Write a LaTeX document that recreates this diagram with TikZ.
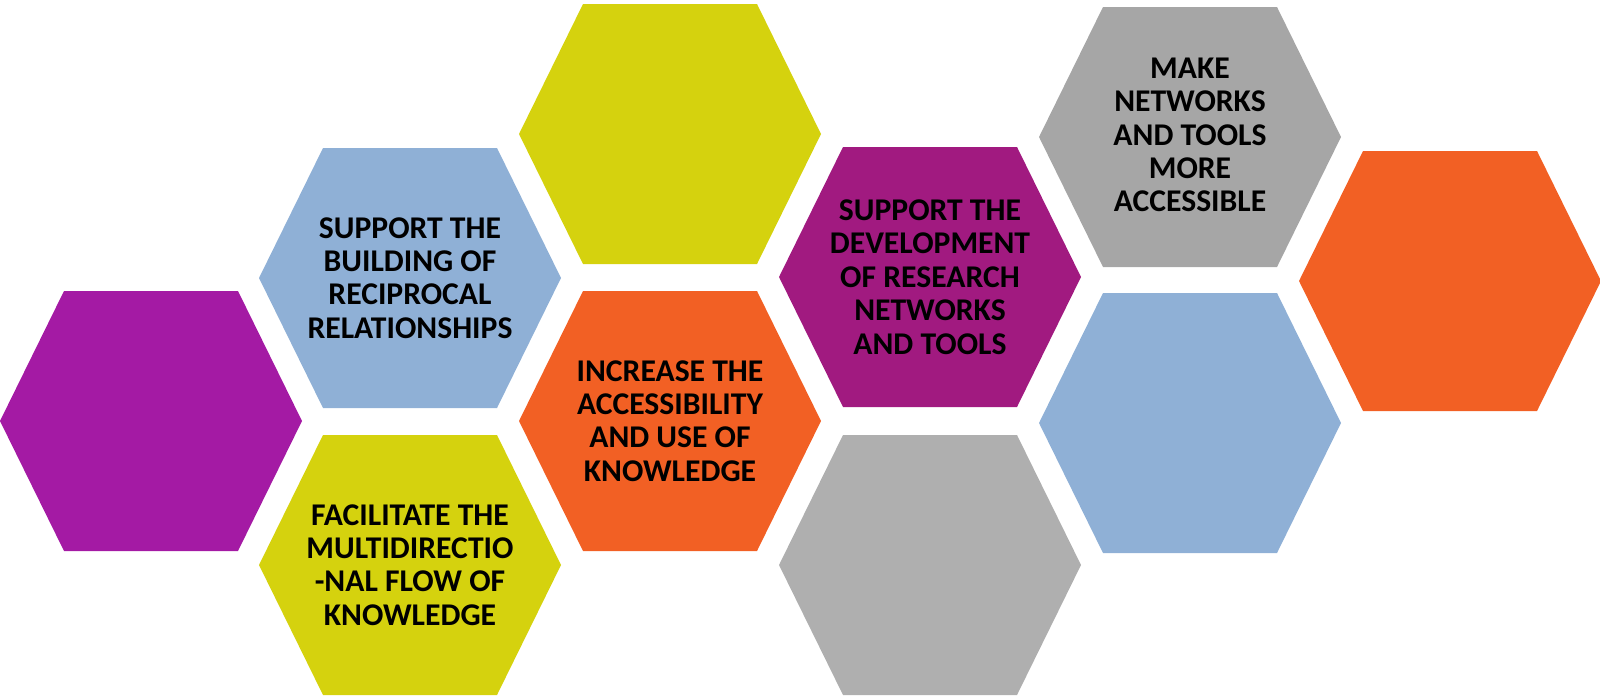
\documentclass[tikz,border=0pt]{standalone}
\usepackage{fontspec}
\setmainfont{Carlito}

\definecolor{hexpurple}{HTML}{A41AA4}
\definecolor{hexplum}{HTML}{A11A80}
\definecolor{hexblue}{HTML}{8FB0D6}
\definecolor{hexyellow}{HTML}{D5D20E}
\definecolor{hexorange}{HTML}{F26024}
\definecolor{hexgrey}{HTML}{A6A6A6}
\definecolor{hexgreylight}{HTML}{AFAFAF}

\tikzset{
	goal/.style={align=center, text=black, font=\fontsize{9}{9.5}\selectfont\bfseries, inner sep=0pt}
}

\begin{document}
\begin{tikzpicture}[x=0.01cm, y=-0.01cm]
		\useasboundingbox (0,0) rectangle (1600,697);
		% hexagons, column by column
		\fill[hexpurple] (151,421) +(-151,0) -- +(-87,-130) -- +(87,-130) -- +(151,0) -- +(87,130) -- +(-87,130) -- cycle;
		\fill[hexblue] (410,278) +(-151,0) -- +(-87,-130) -- +(87,-130) -- +(151,0) -- +(87,130) -- +(-87,130) -- cycle;
		\fill[hexyellow] (410,565) +(-151,0) -- +(-87,-130) -- +(87,-130) -- +(151,0) -- +(87,130) -- +(-87,130) -- cycle;
		\fill[hexyellow] (670,134) +(-151,0) -- +(-87,-130) -- +(87,-130) -- +(151,0) -- +(87,130) -- +(-87,130) -- cycle;
		\fill[hexorange] (670,421) +(-151,0) -- +(-87,-130) -- +(87,-130) -- +(151,0) -- +(87,130) -- +(-87,130) -- cycle;
		\fill[hexplum] (930,277) +(-151,0) -- +(-87,-130) -- +(87,-130) -- +(151,0) -- +(87,130) -- +(-87,130) -- cycle;
		\fill[hexgreylight] (930,565) +(-151,0) -- +(-87,-130) -- +(87,-130) -- +(151,0) -- +(87,130) -- +(-87,130) -- cycle;
		\fill[hexgrey] (1190,137) +(-151,0) -- +(-87,-130) -- +(87,-130) -- +(151,0) -- +(87,130) -- +(-87,130) -- cycle;
		\fill[hexblue] (1190,423) +(-151,0) -- +(-87,-130) -- +(87,-130) -- +(151,0) -- +(87,130) -- +(-87,130) -- cycle;
		\fill[hexorange] (1450,281) +(-151,0) -- +(-87,-130) -- +(87,-130) -- +(151,0) -- +(87,130) -- +(-87,130) -- cycle;
		% texts
		\node[goal] (building) at (410,278) {SUPPORT THE\\BUILDING OF\\RECIPROCAL\\RELATIONSHIPS};
		\node[goal] (flow) at (410,565) {FACILITATE THE\\MULTIDIRECTIO\\-NAL FLOW OF\\KNOWLEDGE};
		\node[goal] (access) at (670,421) {INCREASE THE\\ACCESSIBILITY\\AND USE OF\\KNOWLEDGE};
		\node[goal] (research) at (930,277) {SUPPORT THE\\DEVELOPMENT\\OF RESEARCH\\NETWORKS\\AND TOOLS};
		\node[goal] (tools) at (1190,135) {MAKE\\NETWORKS\\AND TOOLS\\MORE\\ACCESSIBLE};
	\end{tikzpicture}
\end{document}
